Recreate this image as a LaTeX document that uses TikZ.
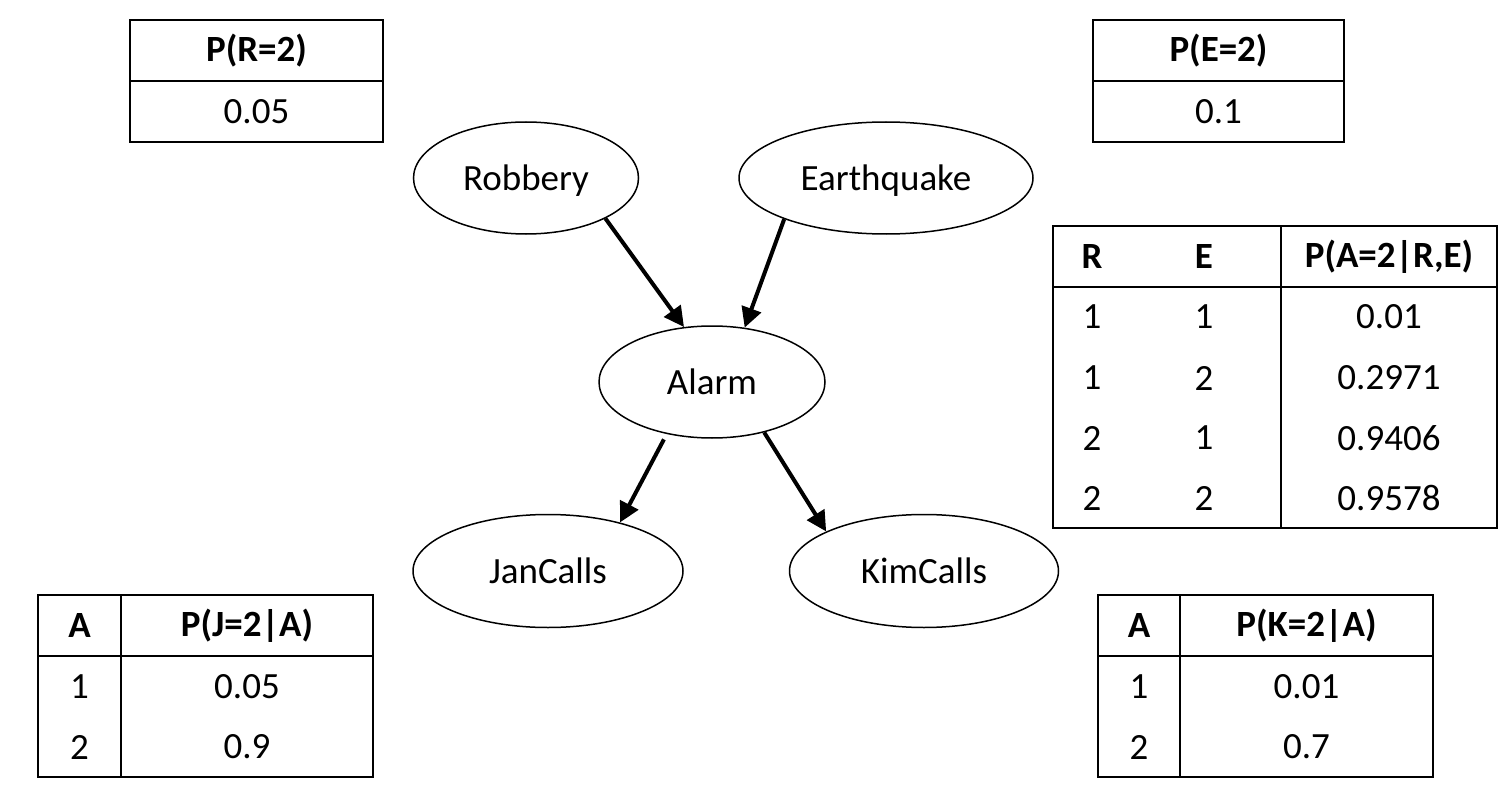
\documentclass[tikz,border=0pt]{standalone}
\usepackage{fontspec}
\setmainfont{Carlito}
\usetikzlibrary{positioning}
\usetikzlibrary{arrows.meta}
\usetikzlibrary{shapes.geometric}

\begin{document}
\begin{tikzpicture}[x=0.5pt, y=-0.5pt,
    var/.style={ellipse, draw=black, line width=0.75pt, inner sep=0pt, text depth=0pt, font=\fontsize{18.5}{22}\selectfont},
    edge/.style={-{Triangle[length=10pt, width=10pt]}, line width=2pt},
    cell/.style={inner sep=0pt, font=\fontsize{18.5}{22}\selectfont},
    head/.style={cell, font=\fontsize{18.5}{22}\selectfont\bfseries},
    grid/.style={line width=1pt}]
            \useasboundingbox (0,0) rectangle (1506,792);

            % network
            \node[var, minimum width=112.5pt, minimum height=56pt] (node_robbery) at (526,178) {Robbery};
            \node[var, minimum width=147pt, minimum height=56pt] (node_earthquake) at (886,178) {Earthquake};
            \node[var, minimum width=113pt, minimum height=56pt] (node_alarm) at (712,382) {Alarm};
            \node[var, minimum width=135pt, minimum height=56.5pt] (node_jan) at (548,571) {JanCalls};
            \node[var, minimum width=134.5pt, minimum height=56.5pt] (node_kim) at (924,571) {KimCalls};

            \draw[edge] (node_robbery.-27) -- (node_alarm.117);
            \draw[edge] (node_earthquake.202) -- (node_alarm.59);
            \draw[edge, shorten <=3pt] (node_alarm.-131) -- (node_jan.34);
            \draw[edge] (node_alarm.-44) -- (node_kim.158);

            % P(R)
            \draw[grid] (130,20) rectangle (383,142);
            \draw[grid] (130,81) -- (383,81);
            \node[head] (tab_r_head) at (256.5,51) {P(R=2)};
            \node[cell] (tab_r_val) at (256.5,112) {0.05};

            % P(E)
            \draw[grid] (1093,20) rectangle (1344,142);
            \draw[grid] (1093,81) -- (1344,81);
            \node[head] (tab_e_head) at (1218.5,51) {P(E=2)};
            \node[cell] (tab_e_val) at (1218.5,112) {0.1};

            % P(A|R,E)
            \draw[grid] (1053,226) rectangle (1497,528);
            \draw[grid] (1053,287) -- (1497,287);
            \draw[grid] (1281,226) -- (1281,528);
            \node[head] (tab_a_r) at (1092,257) {R};
            \node[head] (tab_a_e) at (1204,257) {E};
            \node[head] (tab_a_p) at (1389,257) {P(A=2|R,E)};
            \node[cell] (tab_a_r_1) at (1092,317) {1};
            \node[cell] (tab_a_e_1) at (1204,317) {1};
            \node[cell] (tab_a_p_1) at (1389,317) {0.01};
            \node[cell] (tab_a_r_2) at (1092,378) {1};
            \node[cell] (tab_a_e_2) at (1204,378) {2};
            \node[cell] (tab_a_p_2) at (1389,378) {0.2971};
            \node[cell] (tab_a_r_3) at (1092,438) {2};
            \node[cell] (tab_a_e_3) at (1204,438) {1};
            \node[cell] (tab_a_p_3) at (1389,438) {0.9406};
            \node[cell] (tab_a_r_4) at (1092,498) {2};
            \node[cell] (tab_a_e_4) at (1204,498) {2};
            \node[cell] (tab_a_p_4) at (1389,498) {0.9578};

            % P(J|A)
            \draw[grid] (38,595) rectangle (373,777);
            \draw[grid] (38,656) -- (373,656);
            \draw[grid] (121,595) -- (121,777);
            \node[head] (tab_j_a) at (79.5,626) {A};
            \node[head] (tab_j_p) at (247,626) {P(J=2|A)};
            \node[cell] (tab_j_a_1) at (79.5,687) {1};
            \node[cell] (tab_j_p_1) at (247,687) {0.05};
            \node[cell] (tab_j_a_2) at (79.5,747) {2};
            \node[cell] (tab_j_p_2) at (247,747) {0.9};

            % P(K|A)
            \draw[grid] (1098,595) rectangle (1433,777);
            \draw[grid] (1098,656) -- (1433,656);
            \draw[grid] (1180,595) -- (1180,777);
            \node[head] (tab_k_a) at (1139,626) {A};
            \node[head] (tab_k_p) at (1306.5,626) {P(K=2|A)};
            \node[cell] (tab_k_a_1) at (1139,687) {1};
            \node[cell] (tab_k_p_1) at (1306.5,687) {0.01};
            \node[cell] (tab_k_a_2) at (1139,747) {2};
            \node[cell] (tab_k_p_2) at (1306.5,747) {0.7};
        \end{tikzpicture}
\end{document}
